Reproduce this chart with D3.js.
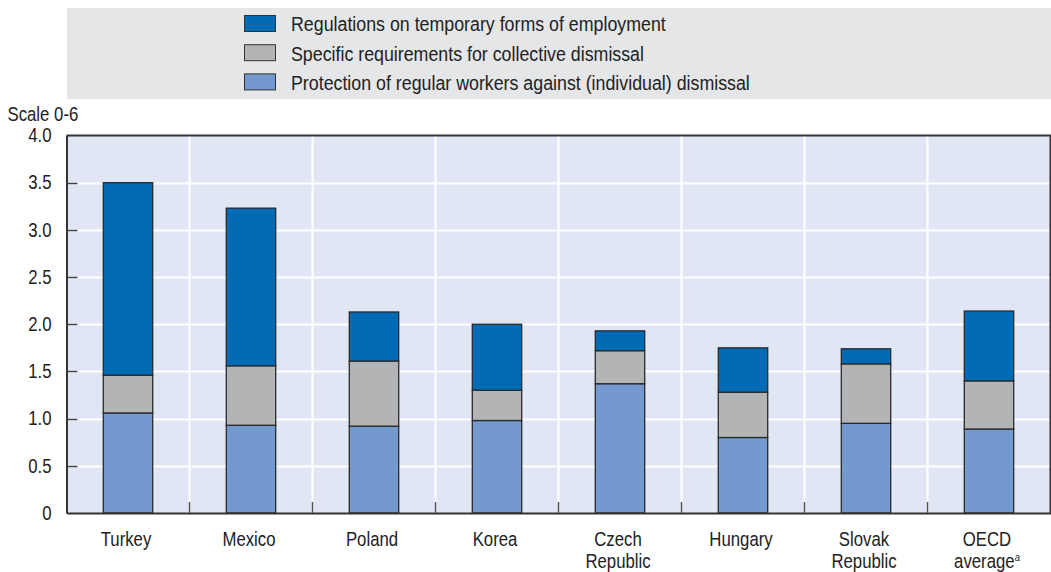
<!DOCTYPE html>
<html>
<head>
<meta charset="utf-8">
<script src="https://cdn.jsdelivr.net/npm/d3@7"></script>
<style>
  body { margin: 0; background: #fff; }
  svg { display: block; font-family: "Liberation Sans", Arial, sans-serif; }
</style>
</head>
<body>
<svg id="chart" width="1051" height="572"></svg>
<script>
// Employment protection legislation index by component (scale 0-6)
const categories = ["Turkey", "Mexico", "Poland", "Korea", "Czech Republic", "Hungary", "Slovak Republic", "OECD average"];
const regularDismissal    = [1.06, 0.93, 0.92, 0.98, 1.37, 0.80, 0.95, 0.89];
const collectiveDismissal = [0.40, 0.63, 0.69, 0.32, 0.35, 0.48, 0.63, 0.51];
const temporaryEmployment = [2.04, 1.67, 0.52, 0.70, 0.21, 0.47, 0.16, 0.74];
const seriesNames = [
  "Protection of regular workers against (individual) dismissal",
  "Specific requirements for collective dismissal",
  "Regulations on temporary forms of employment"
];
const yTicks = [0, 0.5, 1.0, 1.5, 2.0, 2.5, 3.0, 3.5, 4.0];

const colors = ["#7399cf", "#b3b4b6", "#006ab5"];

const svg = d3.select("#chart");
const W = 1051;
const plot = { left: 66.5, right: 1050.5, top: 135.5, bottom: 513 };
const FS = 19.5;    // axis font size
const SX = 0.86;    // horizontal squeeze for a condensed look
const TXT = "#222";

// Condensed text helper: positions the text at (x, y), then narrows it horizontally
function ctext(g, x, y, str, anchor = "start", size = FS, sx = SX) {
  return g.append("text")
    .attr("transform", `translate(${x},${y}) scale(${sx},1)`)
    .attr("text-anchor", anchor)
    .attr("font-size", size)
    .attr("fill", TXT)
    .text(str);
}

const x = d3.scaleBand().domain(categories).range([plot.left, plot.right]).padding(0);
const y = d3.scaleLinear().domain([0, 4]).range([plot.bottom, plot.top]);

// Legend panel
svg.append("rect").attr("x", 67).attr("y", 8).attr("width", W - 67).attr("height", 91).attr("fill", "#e5e6e8");
const legendOrder = [2, 1, 0];
const leg = svg.append("g");
legendOrder.forEach((si, i) => {
  const cy = 24 + i * 29.2;
  leg.append("rect").attr("x", 244.5).attr("y", cy - 8.5).attr("width", 31).attr("height", 16)
    .attr("fill", colors[si]).attr("stroke", "#333").attr("stroke-width", 1);
  ctext(leg, 291, cy + 7.3, seriesNames[si], "start", 20, 0.89);
});

// Plot background
svg.append("rect").attr("x", plot.left).attr("y", plot.top)
  .attr("width", plot.right - plot.left).attr("height", plot.bottom - plot.top).attr("fill", "#e1e6f4");

// Horizontal gridlines
svg.append("g").selectAll("line").data(yTicks.slice(1, -1)).join("line")
  .attr("x1", plot.left).attr("x2", plot.right)
  .attr("y1", d => Math.round(y(d)) + 0.5).attr("y2", d => Math.round(y(d)) + 0.5)
  .attr("stroke", "#fff").attr("stroke-width", 2);

// Vertical gridlines at category boundaries
const bounds = categories.slice(1).map(c => x(c));
svg.append("g").selectAll("line").data(bounds).join("line")
  .attr("x1", d => d).attr("x2", d => d)
  .attr("y1", plot.top).attr("y2", plot.bottom)
  .attr("stroke", "#fff").attr("stroke-width", 2);

// Stacked bars
const rows = categories.map((c, i) => ({ cat: c, s0: regularDismissal[i], s1: collectiveDismissal[i], s2: temporaryEmployment[i] }));
const stack = d3.stack().keys(["s0", "s1", "s2"])(rows);
const barW = 49.4;
svg.append("g").selectAll("g").data(stack).join("g")
  .attr("fill", (d, i) => colors[i])
  .selectAll("rect").data(d => d).join("rect")
  .attr("x", d => x(d.data.cat) + x.bandwidth() / 2 - barW / 2)
  .attr("width", barW)
  .attr("y", d => y(d[1]))
  .attr("height", d => y(d[0]) - y(d[1]))
  .attr("stroke", "#2a2a2a").attr("stroke-width", 1.3);

// Frame: top and right borders
svg.append("path")
  .attr("d", `M${plot.left},${plot.top}H${plot.right}V${plot.bottom}`)
  .attr("fill", "none").attr("stroke", "#333").attr("stroke-width", 2);

// Y axis with inward ticks
const yAxis = svg.append("g").attr("transform", `translate(${plot.left},0)`)
  .call(d3.axisLeft(y).tickValues(yTicks).tickSize(0).tickPadding(15)
    .tickFormat(d => d === 0 ? "0" : d3.format(".1f")(d)));
yAxis.select(".domain").attr("stroke", "#333").attr("stroke-width", 2);
yAxis.selectAll("text")
  .attr("font-size", FS).attr("fill", TXT).attr("font-family", null)
  .attr("x", -15 / SX).attr("transform", `scale(${SX},1)`);
svg.append("g").selectAll("line").data(yTicks.slice(1, -1)).join("line")
  .attr("x1", plot.left).attr("x2", plot.left + 11)
  .attr("y1", d => Math.round(y(d)) + 0.5).attr("y2", d => Math.round(y(d)) + 0.5)
  .attr("stroke", "#444").attr("stroke-width", 1.5);

// X axis
const xAxis = svg.append("g").attr("transform", `translate(0,${plot.bottom})`)
  .call(d3.axisBottom(x).tickSize(0).tickFormat(""));
xAxis.select(".domain").attr("stroke", "#333").attr("stroke-width", 2);
svg.append("g").selectAll("line").data(bounds).join("line")
  .attr("x1", d => d).attr("x2", d => d)
  .attr("y1", plot.bottom - 11).attr("y2", plot.bottom)
  .attr("stroke", "#555").attr("stroke-width", 1.5);

// Category labels (two lines where needed)
const labelLines = {
  "Czech Republic": ["Czech", "Republic"],
  "Slovak Republic": ["Slovak", "Republic"],
  "OECD average": ["OECD", "average"]
};
const lab = svg.append("g");
categories.forEach(c => {
  const lines = labelLines[c] || [c];
  const cx = x(c) + x.bandwidth() / 2 - 2;
  lines.forEach((ln, i) => {
    const t = ctext(lab, cx, 546 + i * 21.7, ln, "middle");
    if (c === "OECD average" && i === 1) {
      t.append("tspan").attr("font-size", 11).attr("font-style", "italic").attr("dy", -7).text("a");
    }
  });
});

// Y axis unit label
ctext(svg, 7.5, 121, "Scale 0-6");
</script>
</body>
</html>
